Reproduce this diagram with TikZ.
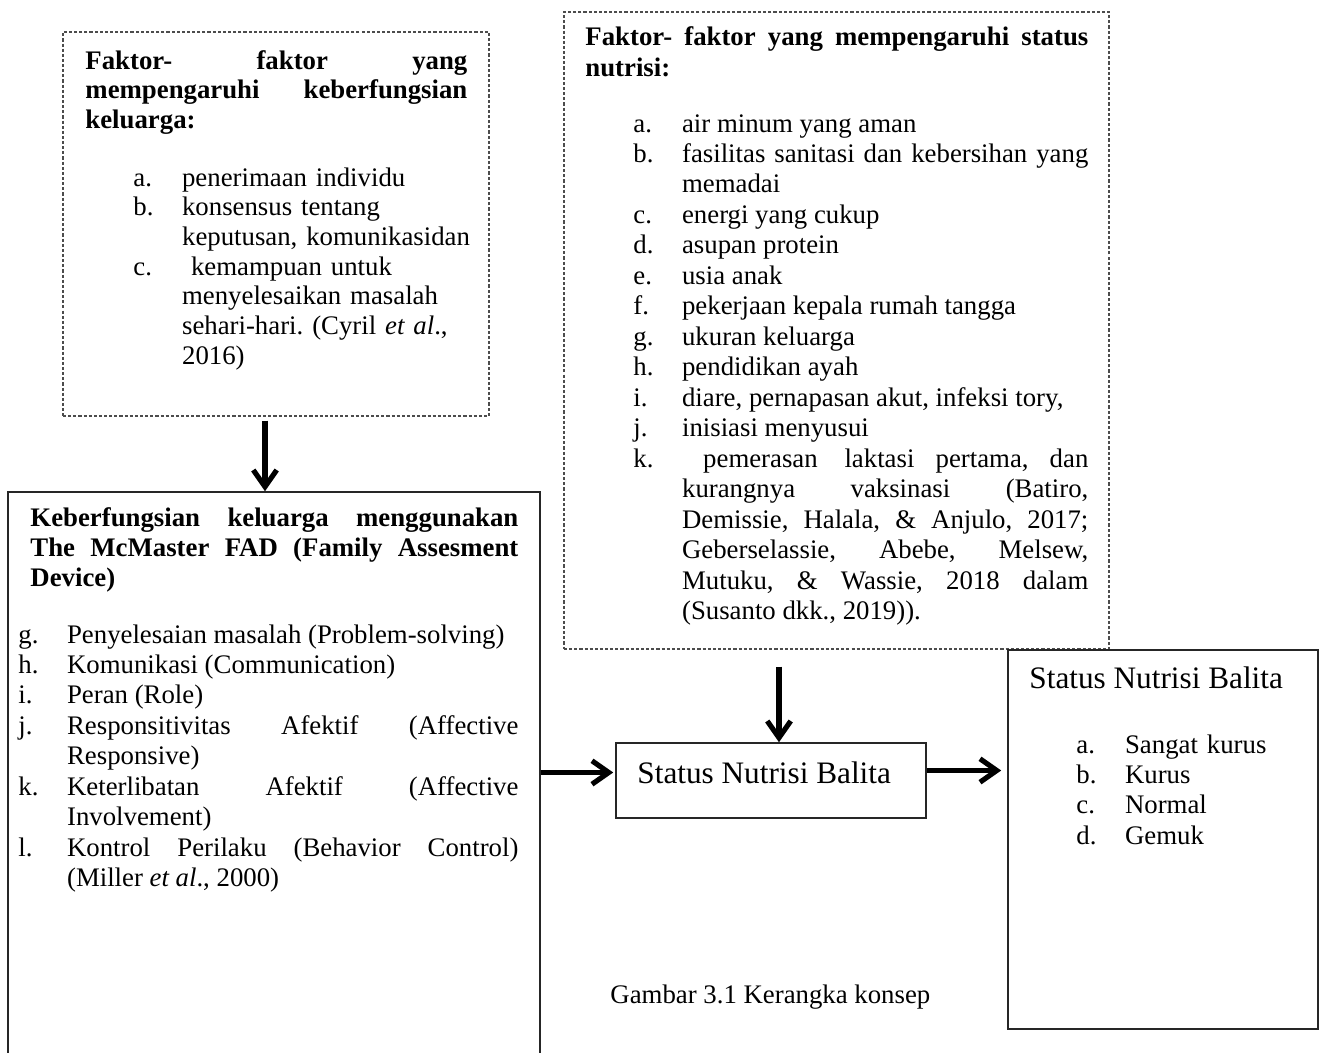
\documentclass[tikz,border=0pt]{standalone}
\usepackage{fontspec}
\setmainfont{Liberation Serif}
\usetikzlibrary{positioning,arrows.meta,fit,calc}
\tolerance=9999
\hbadness=10000
\hyphenpenalty=10000
\exhyphenpenalty=10000
\frenchspacing
\newlength{\itmind}
\setlength{\itmind}{21.8pt}
\newcommand{\itm}[2]{\hangindent=\itmind\hangafter=1\makebox[\itmind][l]{#1}#2\par}

\begin{document}
\begin{tikzpicture}[
  x=0.448pt, y=-0.448pt,
  dotbox/.style={draw=black!70, line width=0.5pt, dash pattern=on 1.4pt off 0.9pt, inner sep=0pt},
  solidbox/.style={draw=black!85, line width=0.7pt, inner sep=0pt},
  txt/.style={anchor=base west, inner sep=0pt, font=\fontsize{12}{13.66}\selectfont},
  judul/.style={anchor=base west, inner sep=0pt, font=\fontsize{12}{13.66}\selectfont\bfseries, align=justify},
  besar/.style={anchor=base west, inner sep=0pt, font=\fontsize{14}{16}\selectfont},
  arr/.style={line width=2.3pt, -{Straight Barb[length=7.5pt,width=10.5pt]}}
]
\useasboundingbox (0,0) rectangle (1323,1053);

\node[dotbox, fit={(63,32) (489,416)}] (faktorkel) {};
\node[judul, font=\fontsize{12}{13.3}\selectfont\bfseries, text width=171.1pt] (judulkel) at (85,69)
  {Faktor- faktor yang\linebreak mempengaruhi keberfungsian\linebreak keluarga:};
\node[txt, font=\fontsize{12}{13.3}\selectfont, text width=162pt, align=left] (daftarkel) at (133,186) {%
  \itm{a.}{penerimaan individu}
  \itm{b.}{konsensus tentang\newline keputusan, komunikasidan}
  \itm{c.}{\ kemampuan untuk\newline menyelesaikan masalah\newline sehari-hari. (Cyril \textit{et al}.,\newline 2016)}};

\node[dotbox, fit={(564,12) (1109,649)}] (faktornut) {};
\node[judul, text width=225.3pt] (judulnut) at (585,46)
  {Faktor- faktor yang mempengaruhi status\linebreak nutrisi:};
\node[txt, text width=203.8pt, align=justify] (daftarnut) at (633,132) {%
  \itm{a.}{air minum yang aman}
  \itm{b.}{fasilitas sanitasi dan kebersihan yang\linebreak memadai}
  \itm{c.}{energi yang cukup}
  \itm{d.}{asupan protein}
  \itm{e.}{usia anak}
  \itm{f.}{pekerjaan kepala rumah tangga}
  \itm{g.}{ukuran keluarga}
  \itm{h.}{pendidikan ayah}
  \itm{i.}{diare, pernapasan akut, infeksi tory,}
  \itm{j.}{inisiasi menyusui}
  \itm{k.}{\ pemerasan\quad laktasi pertama, dan\linebreak kurangnya vaksinasi (Batiro,\linebreak Demissie, Halala, \& Anjulo, 2017;\linebreak Geberselassie, Abebe, Melsew,\linebreak Mutuku, \& Wassie, 2018 dalam\linebreak (Susanto dkk., 2019)).}};

\node[solidbox, fit={(8,492) (540,1075)}] (fad) {};
\node[judul, text width=218.6pt] (judulfad) at (30,526)
  {Keberfungsian keluarga menggunakan\linebreak The McMaster FAD (Family Assesment\linebreak Device)};
\node[txt, text width=224pt, align=justify] (daftarfad) at (18,643) {%
  \itm{g.}{Penyelesaian masalah (Problem-solving)}
  \itm{h.}{Komunikasi (Communication)}
  \itm{i.}{Peran (Role)}
  \itm{j.}{Responsitivitas Afektif (Affective\linebreak Responsive)}
  \itm{k.}{Keterlibatan Afektif (Affective\linebreak Involvement)}
  \itm{l.}{Kontrol Perilaku (Behavior Control)\linebreak (Miller \textit{et al}., 2000)}};

\node[solidbox, fit={(616,743) (926,818)}] (statusbal) {};
\node[besar] (judulbal) at (637,783) {Status Nutrisi Balita};

\node[solidbox, fit={(1008,650) (1318,1029)}] (kategori) {};
\node[besar] (judulkat) at (1029,688) {Status Nutrisi Balita};
\node[txt, text width=105pt, align=left] (daftarkat) at (1076,753) {%
  \itm{a.}{Sangat kurus}
  \itm{b.}{Kurus}
  \itm{c.}{Normal}
  \itm{d.}{Gemuk}};

\node[txt] (keterangan) at (610,1003) {Gambar 3.1 Kerangka konsep};

\draw[arr] ($(faktorkel.south)+(-11,4)$) -- ($(fad.north)+(-9,0)$);
\draw[arr] ($(faktornut.south)+(-57.5,17)$) -- ($(statusbal.north)+(8,0)$);
\draw[arr] ($(fad.east |- statusbal.west)+(0,-8)$) -- ($(statusbal.west)+(-2,-8)$);
\draw[arr] ($(statusbal.east)+(0,-10)$) -- ($(kategori.west |- statusbal.east)+(-6,-10)$);
\end{tikzpicture}
\end{document}
